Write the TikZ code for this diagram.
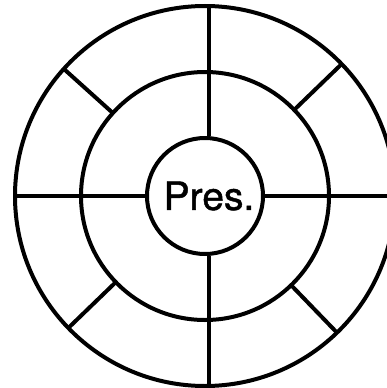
\documentclass[tikz,border=0pt]{standalone}
\usepackage{fontspec}
\setsansfont{TeX Gyre Heros}
\newfontfamily\presfont[FakeBold=1.2]{TeX Gyre Heros}
\usetikzlibrary{calc}
\begin{document}
\begin{tikzpicture}[x=1pt,y=-1pt,
  ring/.style={draw=black, line width=4pt},
  spoke/.style={draw=black, line width=4pt}]
\useasboundingbox (0,0) rectangle (387,388);
\coordinate (c) at (205,196);
\draw[ring] (c) circle[radius=190];
\draw[ring] (c) circle[radius=124];
\node[ring, circle, minimum size=116pt, inner sep=0pt] (pres) at (c) {};
\node[font=\presfont\fontsize{39}{40}\selectfont, inner sep=0pt] (lbl) at (209,196) {Pres.};
% cross lines
\coordinate (top) at (209,6);
\coordinate (bot) at (209,386);
\coordinate (lft) at (15,196);
\coordinate (rgt) at (400,196);
\draw[spoke] (top) -- (top |- pres.north);
\draw[spoke] (bot) -- (bot |- pres.south);
\draw[spoke] (lft) -- (pres.west);
\draw[spoke] (pres.east) -- (rgt);
% diagonals between outer and middle ring
\coordinate (ulo) at ($(c)+(222:190)$);
\coordinate (uli) at ($(c)+(222:124)$);
\coordinate (uro) at ($(c)+(316:190)$);
\coordinate (uri) at ($(c)+(316:124)$);
\coordinate (llo) at ($(c)+(136:190)$);
\coordinate (lli) at ($(c)+(136:124)$);
\coordinate (lro) at ($(c)+(46:190)$);
\coordinate (lri) at ($(c)+(46:124)$);
\draw[spoke] (ulo) -- (uli);
\draw[spoke] (uro) -- (uri);
\draw[spoke] (llo) -- (lli);
\draw[spoke] (lro) -- (lri);
\end{tikzpicture}
\end{document}
